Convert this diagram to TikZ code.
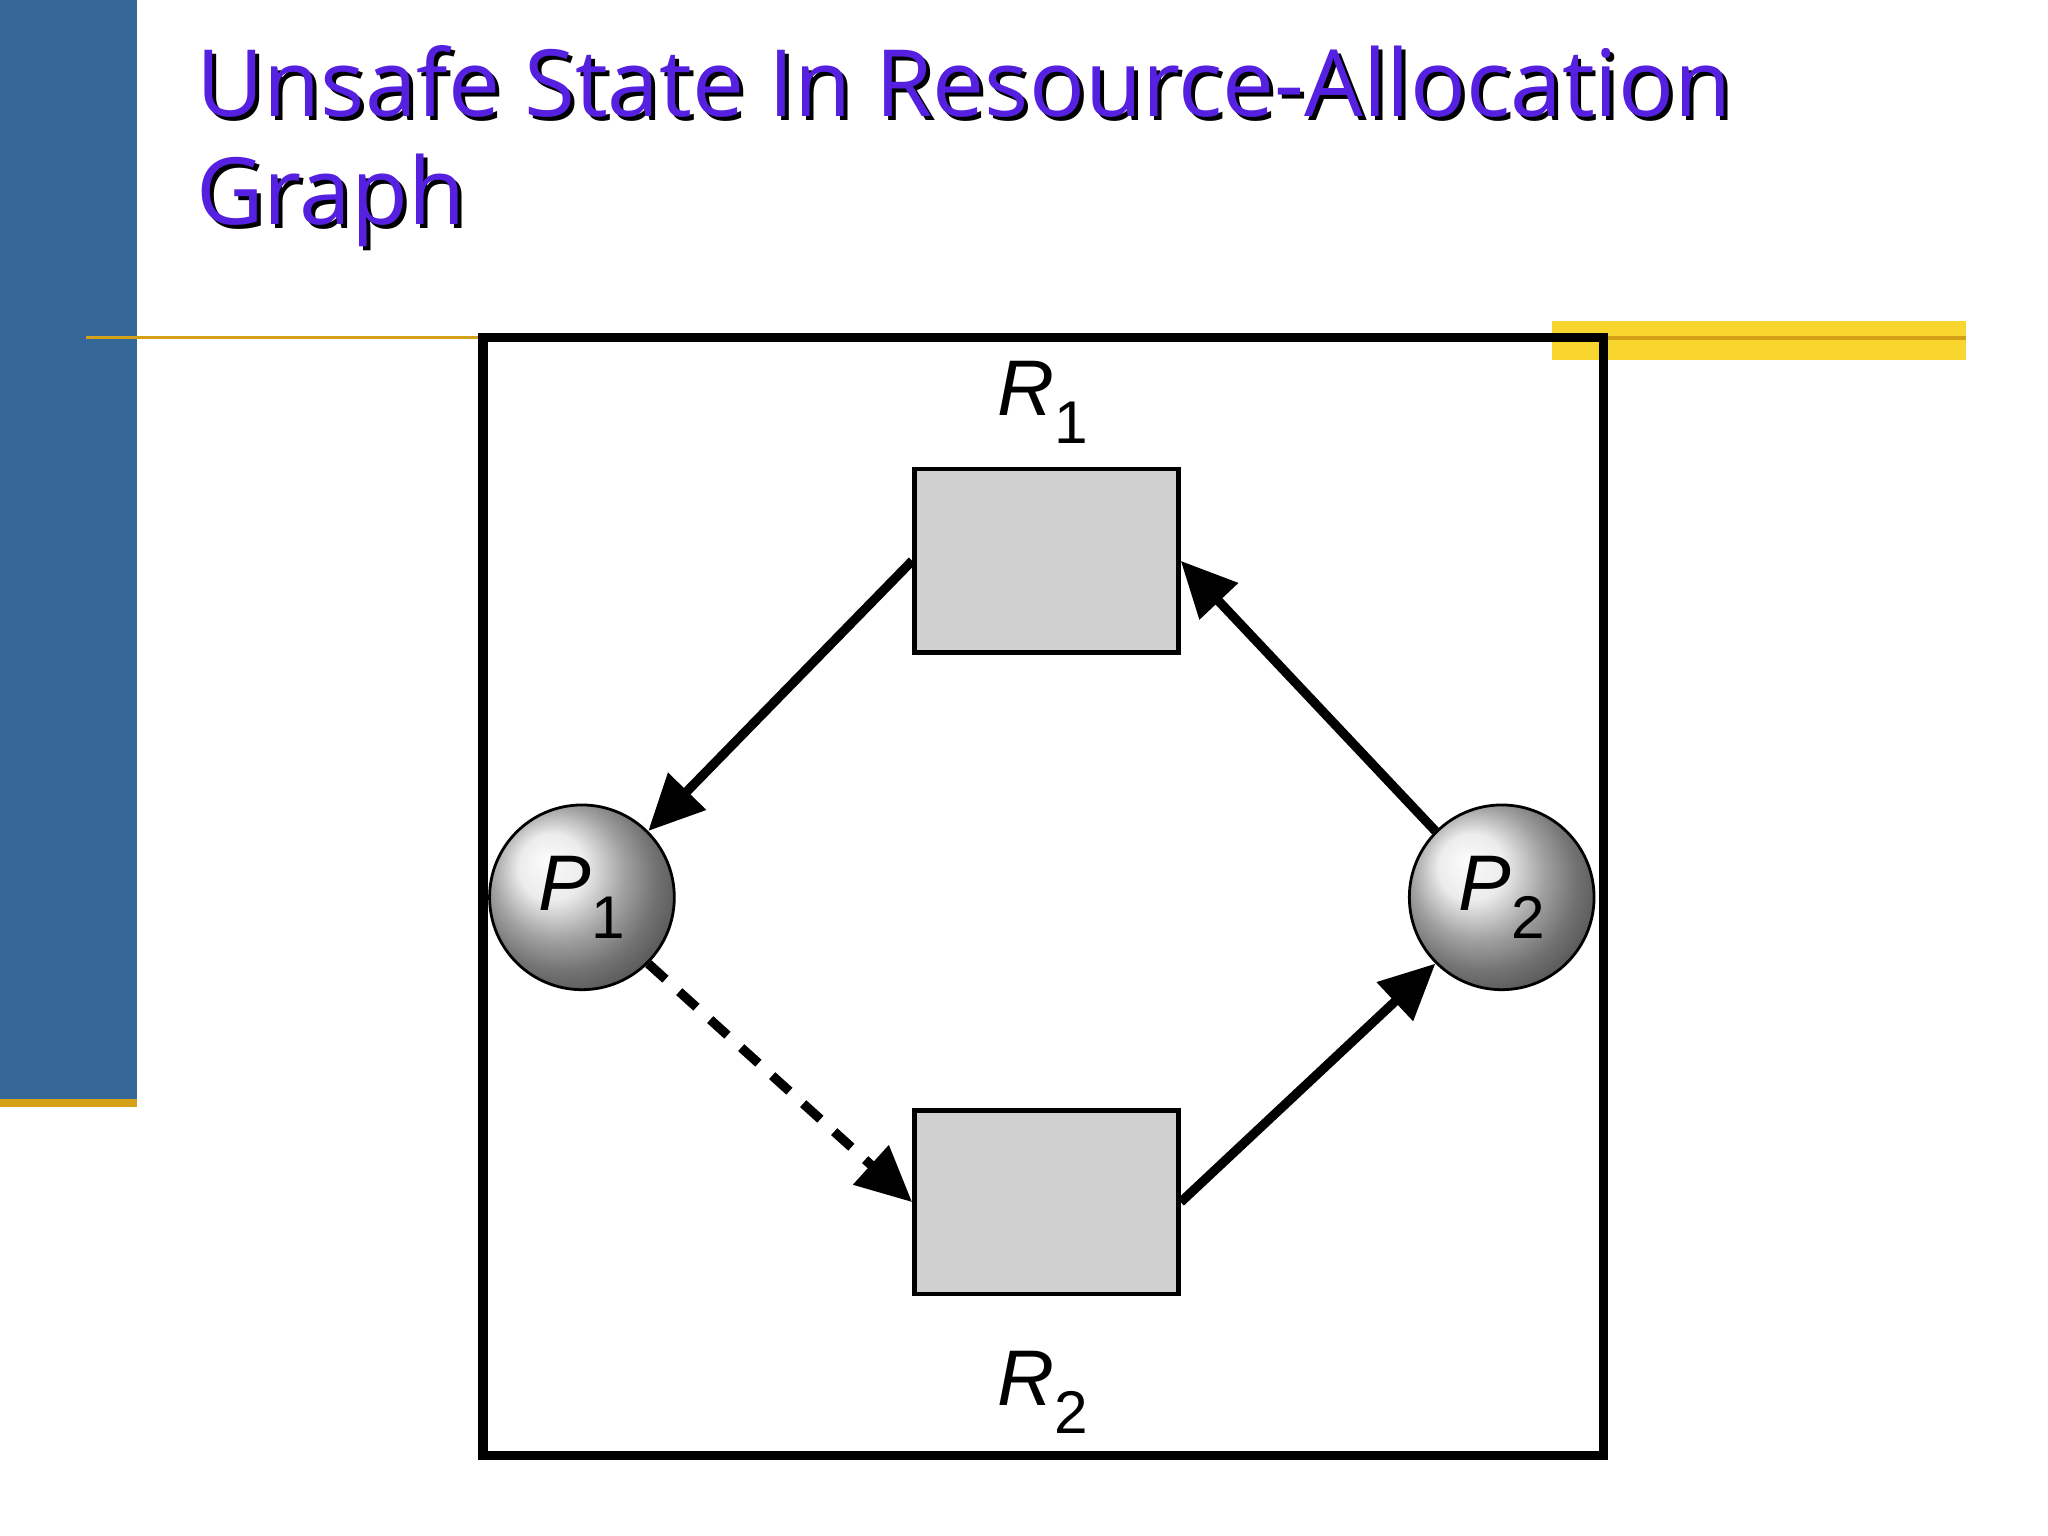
\documentclass[tikz,border=0pt]{standalone}
\usepackage{fontspec}
\setmainfont{Liberation Sans}
\newfontfamily\titlefont{Open Sans}
\usetikzlibrary{arrows.meta,shadings}
\definecolor{barblue}{HTML}{356898}
\definecolor{goldline}{HTML}{D4A017}
\definecolor{yellowbar}{HTML}{F9D62E}
\definecolor{ttl}{HTML}{5520E0}
\definecolor{boxgray}{HTML}{D0D0D0}
\newcommand{\subsz}[1]{\raisebox{-0.35em}{\fontsize{13}{13}\selectfont #1}}
\tikzset{
  res/.style={draw,line width=1pt,fill=boxgray,minimum width=200*0.01cm,minimum height=139*0.01cm,inner sep=0},
  proc/.style={circle,draw,line width=0.6pt,minimum size=140*0.01cm,inner sep=0,ball color=gray!20,font=\fontsize{17}{17}\selectfont},
  edge/.style={line width=2pt,-{Triangle[length=12pt,width=11pt]}},
  lbl/.style={font=\fontsize{17}{17}\selectfont}
}
\begin{document}
\begin{tikzpicture}[x=0.01cm,y=-0.01cm]
\useasboundingbox (0,0) rectangle (1552,1164);
\fill[barblue] (0,0) rectangle (104,834);
\fill[goldline] (0,833) rectangle (104,839);
\draw[goldline,line width=0.6pt] (65,256) -- (362,256);
\fill[yellowbar] (1176,243) rectangle (1490,273);
\draw[goldline,line width=0.8pt] (1176,256) -- (1490,256);
\foreach \c/\dx in {black/3,ttl/0}{
\node[anchor=base west,text=\c,font=\titlefont\fontsize{20}{20}\selectfont,inner sep=0] at (148+\dx,88+\dx) {Unsafe State In Resource-Allocation};
\node[anchor=base west,text=\c,font=\titlefont\fontsize{20}{20}\selectfont,inner sep=0] at (148+\dx,170+\dx) {Graph};}
\draw[line width=2pt] (366,256) rectangle (1215,1103);
\node[res] (R1) at (793,425) {};
\node[res] (R2) at (793,911) {};
\node[lbl] (l1) at (790,305) {\textit{R}\subsz{1}};
\node[lbl] (l2) at (790,1055) {\textit{R}\subsz{2}};
\node[proc] (P1) at (441,680) {\textit{P}\subsz{1}};
\node[proc] (P2) at (1138,680) {\textit{P}\subsz{2}};
\draw[edge] (R1.west) -- (P1.45);
\draw[edge] (P2.135) -- (R1.east);
\draw[edge] (R2.east) -- (P2.225);
\draw[edge,dash pattern=on 5pt off 4pt] (P1.-45) -- (R2.west);
\end{tikzpicture}
\end{document}
